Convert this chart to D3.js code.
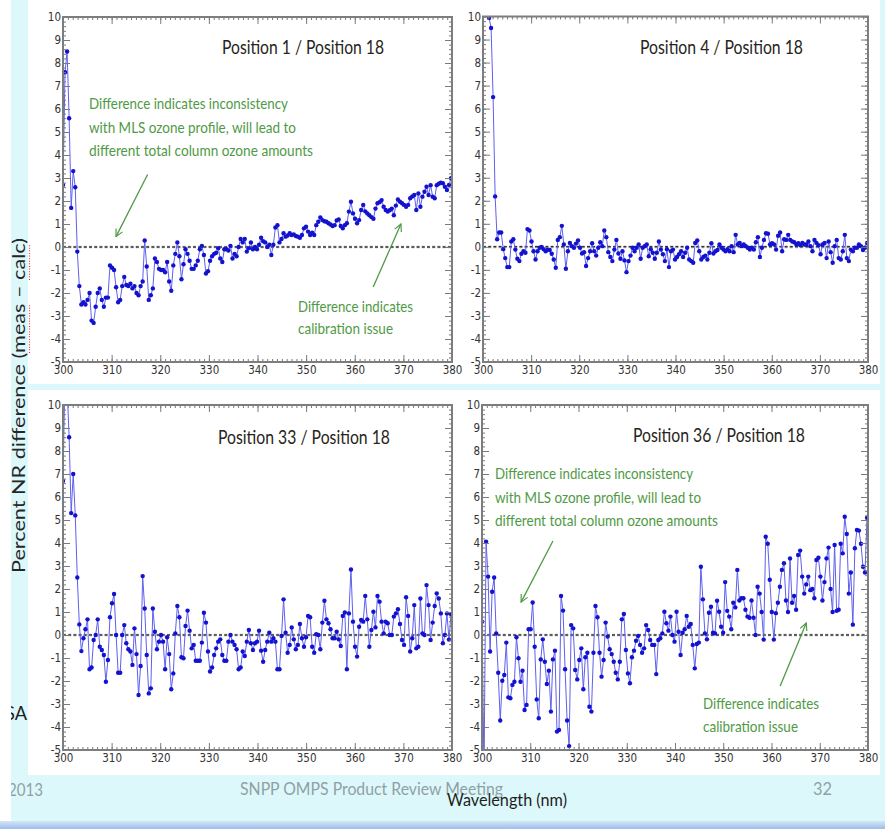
<!DOCTYPE html>
<html>
<head>
<meta charset="utf-8">
<title>Percent NR difference by position</title>
<script src="https://cdn.jsdelivr.net/npm/d3@7"></script>
<style>
  html, body { margin: 0; padding: 0; background: #ffffff; }
  svg { display: block; }
</style>
</head>
<body>
<svg id="chart" width="885" height="829"></svg>
<script>
// ---------------- data ----------------
// Sampling grid of the spectra (nm)
const WAVELENGTH_START = 300;
const WAVELENGTH_STEP = 0.42;

const xTickValues = [300, 310, 320, 330, 340, 350, 360, 370, 380];
const yTickValues = [-5, -4, -3, -2, -1, 0, 1, 2, 3, 4, 5, 6, 7, 8, 9, 10];

const panelTitles = [
  "Position 1 / Position 18",
  "Position 4 / Position 18",
  "Position 33 / Position 18",
  "Position 36 / Position 18"
];

// Percent NR difference (meas - calc), one value per wavelength sample
const pos1 = [
  2.7, 7.6, 8.5, 5.6, 1.7, 3.3, 2.6, -0.2, -1.7, -2.5,
  -2.4, -2.5, -2.3, -2.0, -3.2, -3.3, -2.6, -2.0, -1.8, -2.3,
  -2.6, -2.2, -2.2, -0.8, -0.9, -1.0, -1.75, -2.4, -2.3, -1.7,
  -1.3, -1.65, -1.7, -1.6, -1.8, -1.7, -2.0, -2.1, -1.7, -1.5,
  0.28, -0.85, -2.3, -2.1, -1.8, -0.5, -0.65, -0.95, -1.0, -1.0,
  -1.1, -0.65, -1.5, -1.9, -0.8, -0.3, 0.2, -0.4, -1.4, -0.75,
  -0.1, -0.3, -0.6, -0.95, -0.95, -0.8, -0.6, -0.1, 0.05, -0.35,
  -1.15, -1.05, -0.6, -0.4, -0.3, -0.25, -0.05, -0.5, -0.65, -0.1,
  -0.1, -0.15, 0.05, -0.5, -0.3, -0.4, 0.0, 0.35, 0.2, 0.35,
  -0.2, -0.05, 0.2, -0.1, 0.0, -0.1, 0.1, 0.4, 0.25, 0.2,
  0.0, 0.1, -0.35, 0.1, 0.85, 0.95, 0.2, 0.35, 0.6, 0.45,
  0.5, 0.6, 0.52, 0.55, 0.48, 0.45, 0.4, 0.52, 0.81, 0.88,
  0.67, 0.52, 0.62, 0.52, 0.95, 1.1, 1.29, 1.17, 1.12, 1.1,
  1.03, 0.98, 0.91, 0.95, 1.15, 1.2, 0.91, 0.81, 0.95, 1.03,
  1.54, 1.97, 1.46, 1.23, 1.03, 1.17, 1.61, 1.83, 1.55, 1.46,
  1.38, 1.3, 1.23, 1.67, 1.9, 1.95, 2.04, 1.75, 1.61, 1.54,
  1.6, 1.67, 1.38, 1.8, 2.07, 1.97, 1.9, 1.83, 1.75, 1.83,
  2.12, 2.2, 2.26, 1.61, 2.33, 1.75, 2.19, 2.4, 2.62, 2.26,
  2.69, 2.19, 2.12, 2.69, 2.75, 2.8, 2.77, 2.62, 2.48, 2.7,
  2.99
];

const pos4 = [
  15, 13, 11.5, 9.94, 9.5, 6.5, 2.19, 0.33, 0.62, 0.62,
  -0.1, -0.49, -0.88, -0.88, 0.23, 0.33, -0.12, -0.52, -0.62, -0.3,
  -0.19, -0.26, 0.77, 0.71, 0.23, -0.19, -0.55, -0.19, -0.04, 0.0,
  -0.1, -0.19, -0.12, -0.14, -0.3, -0.55, -0.91, 0.3, 0.42, 0.91,
  0.1, -0.95, -0.19, 0.17, 0.03, -0.04, 0.14, 0.28, -0.04, -0.29,
  -0.23, -0.83, -0.49, -0.19, 0.16, -0.19, -0.38, -0.04, 0.2, 0.03,
  0.71, 0.42, -0.23, -0.44, -0.62, -0.12, 0.3, -0.29, -0.52, -0.19,
  -0.59, -1.1, -0.62, -0.38, -0.04, -0.19, -0.04, 0.1, -0.52, -0.04,
  0.03, 0.1, -0.41, -0.1, -0.26, -0.52, -0.26, 0.23, -0.12, -0.32,
  -0.62, -0.1, -0.88, -0.19, -0.12, -0.55, -0.44, -0.32, -0.19, -0.44,
  -0.26, -0.04, -0.55, -0.62, -0.69, 0.17, 0.28, -0.19, -0.55, -0.44,
  -0.38, -0.55, -0.26, 0.16, -0.29, -0.19, -0.14, 0.1, -0.04, -0.12,
  -0.19, -0.1, -0.19, 0.03, -0.23, 0.52, 0.1, 0.17, 0.03, 0.1,
  0.03, -0.04, -0.12, -0.04, -0.12, 0.2, 0.42, -0.44, -0.04, 0.3,
  0.59, 0.57, 0.1, 0.16, 0.1, -0.12, 0.48, 0.62, -0.19, 0.33,
  0.3, 0.52, 0.3, 0.23, 0.2, 0.1, 0.16, 0.07, 0.17, 0.1,
  0.1, 0.23, 0.03, -0.19, 0.3, 0.17, 0.07, -0.32, 0.1, 0.17,
  -0.49, 0.23, -0.23, -0.69, 0.03, 0.3, -0.49, -0.55, -0.19, 0.52,
  -0.49, -0.62, -0.12, -0.19, -0.04, -0.04, 0.1, 0.03, -0.14, -0.04,
  0.17
];

const pos33 = [
  6.7, 11.5, 10.8, 8.6, 5.3, 7.0, 5.2, 2.5, 0.46, -0.7,
  -0.14, 0.25, 0.68, -1.49, -1.41, -0.22, 0.0, 0.68, -0.51, -0.65,
  -0.87, -2.03, -1.09, 0.77, 1.38, 1.78, 0.0, -1.64, -1.64, 0.0,
  0.43, -0.36, -0.62, -0.72, -1.3, 0.29, -0.83, -2.61, -1.35, 2.56,
  1.15, -0.87, -2.54, -2.32, 1.15, 0.14, -0.62, -0.29, 0.0, -0.29,
  -1.49, -0.1, -0.83, -2.36, -1.67, 0.07, 1.26, 0.77, -0.97, -1.01,
  0.39, 1.06, 0.19, -0.58, -0.43, -1.12, -1.12, -1.12, -0.33, 0.97,
  0.54, -0.72, -1.59, -1.41, -0.87, -0.58, -0.29, -0.19, -0.87, -1.12,
  -1.12, -0.29, 0.0, -0.29, -0.43, -0.62, -1.49, -1.41, -0.72, -0.91,
  -0.29, 0.22, -0.36, -0.65, -0.36, -0.29, 0.19, -0.68, -1.16, -0.65,
  -0.29, 0.1, -0.29, -0.14, -0.29, -1.49, -1.49, -0.04, 1.55, 0.1,
  -0.77, -0.43, 0.33, -0.19, -0.62, -0.43, 0.48, -0.14, -0.51, -0.1,
  0.83, 0.77, -0.51, -0.77, 0.04, 0.0, -0.62, 0.54, 1.49, 0.68,
  0.51, 0.25, -0.14, -0.14, 0.14, -0.19, -0.48, 0.83, 0.98, -1.49,
  0.94, 2.85, 0.58, -0.51, -0.94, 0.36, 0.65, 0.58, 1.7, 0.68,
  -0.51, 0.22, 1.01, 0.33, 1.7, 1.45, 0.58, 0.07, 0.58, 0.51,
  0.0, 0.0, 0.8, 0.94, 1.12, 0.48, -0.22, -0.43, 1.64, 0.83,
  -0.72, -0.14, 1.3, -0.58, -0.51, 1.59, 0.07, 0.0, 2.17, 1.3,
  -0.22, 0.54, 1.26, 1.81, 1.59, 0.94, -0.36, 0.0, 0.94, -0.2,
  0.9
];

const pos36 = [
  0.58, -6.0, 4.06, 2.54, -0.72, 1.88, 2.5, 0.07, -1.64, -3.72,
  -1.99, -1.74, -0.33, -2.71, -2.75, -2.17, -2.03, -0.1, -1.01, -2.03,
  -1.55, -3.26, -3.04, 0.25, 0.25, 1.41, -0.51, -2.8, -3.62, -1.06,
  -0.19, -1.16, -2.13, -1.55, -3.33, -1.06, -0.68, -4.2, -4.13, 1.7,
  1.06, -1.49, -3.72, -4.83, 0.43, 0.29, -1.52, -1.93, -1.09, -0.58,
  -2.36, -0.97, -0.77, -3.12, -3.33, -0.77, 1.26, 0.77, -0.77, -1.81,
  -1.09, 0.54, -0.07, -0.62, -0.83, -1.16, -1.64, -1.93, -1.16, 0.68,
  0.91, -0.65, -1.67, -2.1, -0.97, -0.68, -0.25, -0.04, -0.43, -0.77,
  -0.58, 0.43, 0.22, -0.22, -0.43, -0.43, -1.7, -0.22, -0.14, 0.07,
  1.01, 0.51, 0.19, 0.8, 0.0, -0.29, 1.01, 0.14, -0.87, 0.1,
  0.25, 0.83, 0.36, 0.48, -0.43, -1.45, -0.39, -0.33, 2.97, 1.55,
  0.07, -0.19, 0.97, 1.23, 0.1, 0.07, 1.49, 1.01, 0.36, 0.1,
  2.3, 1.05, 0.8, 0.25, 1.4, 1.2, 2.83, 1.5, 1.6, 1.6,
  1.1, 0.8, 0.75, 1.5, 0.75, 0.0, 2.1, 1.8, 1.0, -0.2,
  4.27, 3.97, 2.4, 1.0, -0.2, 0.95, 1.4, 2.1, 2.83, 3.12,
  1.5, 1.0, 3.33, 1.4, 1.7, 1.1, 3.48, 3.67, 2.54, 1.8,
  2.2, 2.54, 1.95, 2.0, 1.6, 3.26, 3.36, 2.54, 1.5, 2.3,
  3.33, 3.8, 2.0, 1.0, 3.91, 1.05, 1.1, 3.97, 3.55, 5.14,
  4.39, 1.8, 2.72, 0.45, 3.77, 4.57, 4.54, 3.97, 2.97, 2.72,
  5.1
];

const noteOzone = [
  "Difference indicates inconsistency",
  "with MLS ozone profile, will lead to",
  "different total column ozone amounts"
];
const noteCalibration = ["Difference indicates", "calibration issue"];

const yAxisTitle = "Percent NR difference (meas \u2013 calc)";
const xAxisTitle = "Wavelength (nm)";
const footerDate = "2013";
const footerMeeting = "SNPP OMPS Product Review Meeting";
const footerPage = "32";
const sideFragment = "SA";

// ---------------- layout ----------------
const W = 885, H = 829;
const SLIDE_FONT = "Lato, 'Open Sans', 'Noto Sans', sans-serif";
const TICK_FONT = "'Liberation Sans Narrow', 'DejaVu Sans Condensed', 'Liberation Sans', sans-serif";
const GREEN = "#4f9a45";
const CYAN = "#ddf8fb";

// [left, right, top, bottom] of each plot frame, and title placement
const panels = [
  { values: pos1,  title: panelTitles[0], box: [63, 452, 17, 362],   titleAt: [222, 54, 162] },
  { values: pos4,  title: panelTitles[1], box: [483, 868, 16.5, 362], titleAt: [640, 54, 163] },
  { values: pos33, title: panelTitles[2], box: [63, 452, 405, 750],  titleAt: [218, 444, 172] },
  { values: pos36, title: panelTitles[3], box: [482, 868, 405, 750], titleAt: [633, 442, 172] }
];

const wavelengths = d3.range(pos1.length).map(i => WAVELENGTH_START + i * WAVELENGTH_STEP);

const svg = d3.select("#chart");
const defs = svg.append("defs");

// open V arrowhead for the annotation arrows
defs.append("marker")
  .attr("id", "vhead")
  .attr("viewBox", "0 0 10 10")
  .attr("refX", 9).attr("refY", 5)
  .attr("markerWidth", 9).attr("markerHeight", 9)
  .attr("markerUnits", "userSpaceOnUse")
  .attr("orient", "auto")
  .append("path")
  .attr("d", "M1,1 L9,5 L1,9")
  .attr("fill", "none")
  .attr("stroke", GREEN)
  .attr("stroke-width", 1.3);

const stripe = defs.append("linearGradient").attr("id", "stripe")
  .attr("x1", 0).attr("y1", 0).attr("x2", 0).attr("y2", 1);
stripe.append("stop").attr("offset", "0%").attr("stop-color", "#d4e5f7");
stripe.append("stop").attr("offset", "100%").attr("stop-color", "#9dbde9");

// ---------------- slide background ----------------
svg.append("rect").attr("width", W).attr("height", H).attr("fill", CYAN);
svg.append("rect").attr("x", 28).attr("y", 0).attr("width", 852).attr("height", 384).attr("fill", "#ffffff");
svg.append("rect").attr("x", 28).attr("y", 390).attr("width", 852).attr("height", 385).attr("fill", "#ffffff");
svg.append("rect").attr("x", 0).attr("y", 821).attr("width", W).attr("height", 8).attr("fill", "url(#stripe)");

// ---------------- panels ----------------
panels.forEach((p, k) => {
  const [left, right, top, bottom] = p.box;
  const x = d3.scaleLinear().domain([300, 380]).range([left, right]);
  const y = d3.scaleLinear().domain([-5, 10]).range([bottom, top]);
  p.x = x; p.y = y;

  const g = svg.append("g").attr("class", "panel");

  defs.append("clipPath").attr("id", "plot-clip-" + k)
    .append("rect").attr("x", left).attr("y", top)
    .attr("width", right - left).attr("height", bottom - top);

  // zero reference line
  g.append("line")
    .attr("x1", x(300)).attr("x2", x(380))
    .attr("y1", y(0)).attr("y2", y(0))
    .attr("stroke", "#bdbdbd").attr("stroke-width", 3.2)
    .attr("stroke-dasharray", "3,2.2").attr("opacity", 0.55);
  g.append("line")
    .attr("x1", x(300)).attr("x2", x(380))
    .attr("y1", y(0)).attr("y2", y(0))
    .attr("stroke", "#333333").attr("stroke-width", 1.5)
    .attr("stroke-dasharray", "3,2.2");

  // series
  const pts = p.values.map((v, i) => [wavelengths[i], v]);
  const plot = g.append("g").attr("clip-path", "url(#plot-clip-" + k + ")");
  plot.append("path")
    .attr("d", d3.line().x(d => x(d[0])).y(d => y(d[1]))(pts))
    .attr("fill", "none")
    .attr("stroke", "#5f5ff0")
    .attr("stroke-width", 1)
    .attr("stroke-linejoin", "round");
  plot.selectAll("circle").data(pts).join("circle")
    .attr("cx", d => x(d[0]))
    .attr("cy", d => y(d[1]))
    .attr("r", 2.2)
    .attr("fill", "#1212cf");

  // axes: minor + major ticks on all four sides, pointing inward
  const tickStyle = sel => {
    sel.select(".domain").remove();
    sel.selectAll(".tick line").attr("stroke", "#7a7a7a").attr("stroke-width", 1);
    sel.selectAll(".tick text")
      .attr("fill", "#333333")
      .style("font-family", TICK_FONT)
      .style("font-size", "11.5px");
  };
  const xMinor = d3.range(300, 381, 1);
  const yMinor = d3.range(-5, 10.001, 0.2);

  g.append("g").attr("transform", `translate(0,${bottom})`)
    .call(d3.axisBottom(x).tickValues(xMinor).tickSize(-3).tickFormat("")).call(tickStyle);
  g.append("g").attr("transform", `translate(0,${bottom})`)
    .call(d3.axisBottom(x).tickValues(xTickValues).tickSize(-7).tickPadding(4)
      .tickFormat(d => String(d))).call(tickStyle);
  g.append("g").attr("transform", `translate(0,${top})`)
    .call(d3.axisTop(x).tickValues(xMinor).tickSize(-3).tickFormat("")).call(tickStyle);
  g.append("g").attr("transform", `translate(0,${top})`)
    .call(d3.axisTop(x).tickValues(xTickValues).tickSize(-7).tickFormat("")).call(tickStyle);

  g.append("g").attr("transform", `translate(${left},0)`)
    .call(d3.axisLeft(y).tickValues(yMinor).tickSize(-3).tickFormat("")).call(tickStyle);
  g.append("g").attr("transform", `translate(${left},0)`)
    .call(d3.axisLeft(y).tickValues(yTickValues).tickSize(-7).tickPadding(2)
      .tickFormat(d => String(d))).call(tickStyle);
  g.append("g").attr("transform", `translate(${right},0)`)
    .call(d3.axisRight(y).tickValues(yMinor).tickSize(-3).tickFormat("")).call(tickStyle);
  g.append("g").attr("transform", `translate(${right},0)`)
    .call(d3.axisRight(y).tickValues(yTickValues).tickSize(-7).tickFormat("")).call(tickStyle);

  // frame
  g.append("rect")
    .attr("x", left).attr("y", top)
    .attr("width", right - left).attr("height", bottom - top)
    .attr("fill", "none").attr("stroke", "#7d7d7d").attr("stroke-width", 2);

  // title
  const [tx, ty, tw] = p.titleAt;
  g.append("text")
    .attr("x", tx).attr("y", ty)
    .attr("textLength", tw).attr("lengthAdjust", "spacingAndGlyphs")
    .attr("fill", "#262420")
    .style("font-family", SLIDE_FONT).style("font-size", "19px")
    .text(p.title);
});

// ---------------- annotations ----------------
function noteBlock(lines, x0, baselines, widths) {
  const t = svg.append("g");
  lines.forEach((s, i) => {
    t.append("text")
      .attr("x", x0).attr("y", baselines[i])
      .attr("textLength", widths[i]).attr("lengthAdjust", "spacingAndGlyphs")
      .attr("fill", GREEN)
      .style("font-family", SLIDE_FONT).style("font-size", "15px")
      .text(s);
  });
}
function arrow(p, from, to) {
  svg.append("line")
    .attr("x1", p.x(from[0])).attr("y1", p.y(from[1]))
    .attr("x2", p.x(to[0])).attr("y2", p.y(to[1]))
    .attr("stroke", GREEN).attr("stroke-width", 1.3)
    .attr("marker-end", "url(#vhead)");
}

noteBlock(noteOzone, 89, [109, 132.5, 156], [199, 207, 224]);
arrow(panels[0], [317.4, 3.15], [310.9, 0.45]);
noteBlock(noteCalibration, 298, [311.7, 334], [115, 95]);
arrow(panels[0], [363.8, -1.74], [369.5, 1.0]);

noteBlock(noteOzone, 495, [479.3, 502.7, 526], [198, 206, 223]);
arrow(panels[3], [314.7, 4.09], [308.1, 1.43]);
noteBlock(noteCalibration, 703, [709.3, 731.7], [116, 95]);
arrow(panels[3], [361.8, -2.22], [367.2, 0.52]);

// ---------------- shared axis titles and slide footer ----------------
const yTitleGroup = svg.append("g").attr("transform", "translate(25,405.5) rotate(-90)");
const yTitle = yTitleGroup.append("text")
  .attr("x", 0).attr("y", 0)
  .attr("text-anchor", "middle")
  .attr("textLength", 335).attr("lengthAdjust", "spacingAndGlyphs")
  .attr("fill", "#262626")
  .style("font-family", SLIDE_FONT).style("font-size", "17px")
  .text(yAxisTitle);
// proofing squiggles under "meas" and "calc"
[[23, 26], [30, 33]].forEach(([a, b]) => {
  const node = yTitle.node();
  const s = node.getStartPositionOfChar(a).x;
  const e = node.getEndPositionOfChar(b).x;
  yTitleGroup.append("line")
    .attr("x1", s).attr("x2", e).attr("y1", 4.5).attr("y2", 4.5)
    .attr("stroke", "#e23a3a").attr("stroke-width", 1.2)
    .attr("stroke-dasharray", "1,1.6");
});

svg.append("text")
  .attr("x", 240).attr("y", 795)
  .attr("textLength", 263).attr("lengthAdjust", "spacingAndGlyphs")
  .attr("fill", "#8fa1a5")
  .style("font-family", SLIDE_FONT).style("font-size", "18px")
  .text(footerMeeting);
svg.append("text")
  .attr("x", 813).attr("y", 795)
  .attr("textLength", 19).attr("lengthAdjust", "spacingAndGlyphs")
  .attr("fill", "#8fa1a5")
  .style("font-family", SLIDE_FONT).style("font-size", "18px")
  .text(footerPage);
svg.append("text")
  .attr("x", 8).attr("y", 796)
  .attr("textLength", 35).attr("lengthAdjust", "spacingAndGlyphs")
  .attr("fill", "#8fa1a5")
  .style("font-family", SLIDE_FONT).style("font-size", "18px")
  .text(footerDate);
svg.append("text")
  .attr("x", 447).attr("y", 806)
  .attr("textLength", 120).attr("lengthAdjust", "spacingAndGlyphs")
  .attr("fill", "#1e1e1e")
  .style("font-family", SLIDE_FONT).style("font-size", "18px")
  .text(xAxisTitle);
svg.append("text")
  .attr("x", 5).attr("y", 720)
  .attr("textLength", 22).attr("lengthAdjust", "spacingAndGlyphs")
  .attr("fill", "#1e1e1e")
  .style("font-family", SLIDE_FONT).style("font-size", "19px")
  .text(sideFragment);

// left margin of the page
svg.append("rect").attr("x", 0).attr("y", 0).attr("width", 11).attr("height", 821).attr("fill", "#ffffff");
</script>
</body>
</html>
